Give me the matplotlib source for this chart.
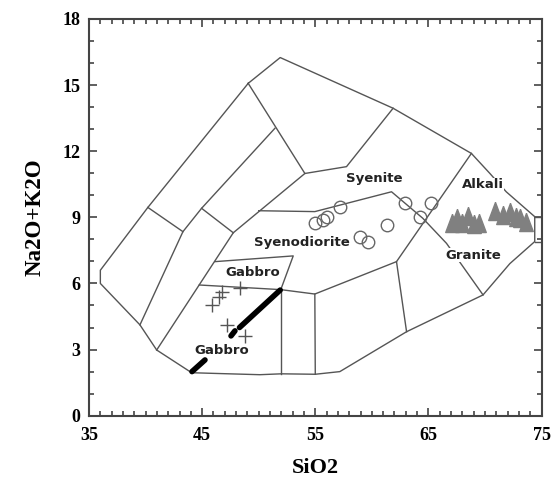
import matplotlib
matplotlib.use('Agg')
import matplotlib.pyplot as plt
from matplotlib.ticker import MultipleLocator

# field boundaries (SiO2, Na2O+K2O)
outer_x = [49.07, 51.9, 61.88, 68.8, 70.42, 71.88, 74.4, 74.4, 72.2, 69.83, 63.07, 57.17, 55.0, 52.0, 50.1, 46.0, 44.07, 40.98, 39.5, 36.0, 36.0, 40.2, 49.07]
outer_y = [15.08, 16.25, 13.95, 11.9, 11.0, 10.16, 9.03, 7.9, 6.9, 5.48, 3.81, 2.0, 1.88, 1.9, 1.86, 1.92, 1.95, 2.98, 4.12, 6.0, 6.6, 9.45, 15.08]

box_top_x = [74.4, 75.0]
box_top_y = [9.03, 9.03]
box_bot_x = [74.4, 75.0]
box_bot_y = [7.9, 7.9]

seg1_x = [40.2, 43.3]
seg1_y = [9.45, 8.35]
seg2_x = [39.5, 43.3, 44.95, 51.43]
seg2_y = [4.12, 8.35, 9.41, 13.04]
seg3_x = [49.07, 54.08, 57.76, 61.88]
seg3_y = [15.08, 10.99, 11.3, 13.95]
seg4_x = [44.95, 47.75]
seg4_y = [9.41, 8.3]
seg5_x = [40.98, 47.75, 54.08]
seg5_y = [2.98, 8.3, 10.99]
seg6_x = [50.0, 54.96, 61.74, 64.5, 66.6, 69.83]
seg6_y = [9.3, 9.26, 10.16, 8.96, 7.82, 5.48]
seg7_x = [46.13, 53.05, 51.95]
seg7_y = [6.99, 7.25, 5.72]
seg8_x = [44.75, 51.95, 54.96, 62.18, 68.8]
seg8_y = [5.93, 5.72, 5.52, 6.99, 11.9]
seg9_x = [62.18, 63.07]
seg9_y = [6.99, 3.81]
seg10_x = [51.95, 51.95]
seg10_y = [5.72, 1.9]
seg11_x = [54.96, 55.0]
seg11_y = [5.52, 1.88]

segs = [(outer_x, outer_y), (box_top_x, box_top_y), (box_bot_x, box_bot_y),
        (seg1_x, seg1_y), (seg2_x, seg2_y), (seg3_x, seg3_y), (seg4_x, seg4_y),
        (seg5_x, seg5_y), (seg6_x, seg6_y), (seg7_x, seg7_y), (seg8_x, seg8_y),
        (seg9_x, seg9_y), (seg10_x, seg10_y), (seg11_x, seg11_y)]

# samples
cross_x = [48.34, 46.72, 46.45, 45.84, 47.16, 48.78]
cross_y = [5.8, 5.6, 5.4, 5.02, 4.12, 3.62]
circ_x = [54.96, 55.7, 56.05, 57.17, 58.94, 59.68, 61.3, 62.9, 64.24, 65.27]
circ_y = [8.73, 8.88, 9.0, 9.48, 8.12, 7.9, 8.65, 9.64, 9.03, 9.64]
tri_x = [67.1, 67.5, 68.0, 68.5, 69.0, 69.5, 70.9, 71.6, 72.2, 72.7, 73.1, 73.6]
tri_y = [8.75, 8.95, 8.75, 9.05, 8.7, 8.75, 9.3, 9.1, 9.25, 9.0, 8.95, 8.8]

# thick black trends
trend1_x = [48.3, 51.9]
trend1_y = [4.0, 5.7]
trend2_x = [47.55, 47.9]
trend2_y = [3.62, 3.85]
trend3_x = [44.1, 45.25]
trend3_y = [2.0, 2.53]

labels = ['Syenite', 'Alkali', 'Granite', 'Syenodiorite', 'Gabbro', 'Gabbro']
label_x = [60.2, 69.8, 68.95, 53.8, 49.5, 46.7]
label_y = [10.75, 10.47, 7.29, 7.85, 6.49, 2.98]

fig = plt.figure(figsize=(5.6, 4.97), dpi=100)
ax = fig.add_axes([0.159, 0.1636, 0.808, 0.7982])

for xs, ys in segs:
    ax.plot(xs, ys, color='#555555', lw=1.0, zorder=2)

for xs, ys in [(trend1_x, trend1_y), (trend2_x, trend2_y), (trend3_x, trend3_y)]:
    ax.plot(xs, ys, color='black', lw=4, solid_capstyle='round', zorder=4)

ax.plot(cross_x, cross_y, '+', color='#555555', ms=10, mew=1.0, ls='none', zorder=4)
ax.plot(circ_x, circ_y, 'o', mfc='none', mec='#666666', ms=9, mew=1.0, ls='none', zorder=4)
# narrow tall triangle
tall_tri = [(0, 1), (-0.75, -1), (0.75, -1), (0, 1)]
ax.plot(tri_x, tri_y, marker=tall_tri, color='#808080', ms=13, mec='#808080', ls='none', zorder=4)

for t, x, y in zip(labels, label_x, label_y):
    ax.text(x, y, t, ha='center', va='center', fontsize=9.5, fontweight='bold',
            color='#222222', zorder=3,
            bbox=dict(facecolor='white', edgecolor='none', pad=0.5))

ax.set_xlim(35, 75)
ax.set_ylim(0, 18)
ax.set_xticks([35, 45, 55, 65, 75])
ax.set_yticks([0, 3, 6, 9, 12, 15, 18])
ax.xaxis.set_minor_locator(MultipleLocator(1))
ax.yaxis.set_minor_locator(MultipleLocator(1))
ax.tick_params(which='both', direction='in', top=True, right=True, color='#444444', width=1.2)
ax.tick_params(which='major', length=6)
ax.tick_params(which='minor', length=3.5)
for lab in ax.get_xticklabels() + ax.get_yticklabels():
    lab.set_fontfamily('Liberation Serif')
    lab.set_fontweight('bold')
    lab.set_fontsize(13)
ax.tick_params(axis='x', pad=8)
ax.tick_params(axis='y', pad=6)
for s in ax.spines.values():
    s.set_linewidth(1.5)
    s.set_color('#444444')

ax.set_xlabel('SiO2', fontfamily='Liberation Serif', fontweight='bold', fontsize=16, labelpad=10)
ax.set_ylabel('Na2O+K2O', fontfamily='Liberation Serif', fontweight='bold', fontsize=16.5, labelpad=12)

fig.savefig('out.png', dpi=100)
